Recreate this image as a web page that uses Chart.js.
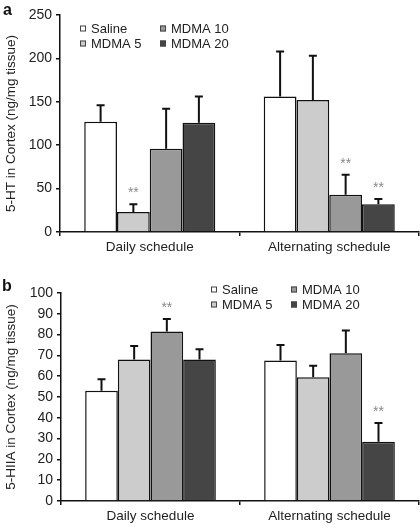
<!DOCTYPE html>
<html>
<head>
<meta charset="utf-8">
<script src="https://cdn.jsdelivr.net/npm/chart.js@4"></script>
<style>
  body { margin: 0; background: #fff; }
  .panel { position: relative; width: 420px; }
  .tag { position: absolute; font: bold 16px "Liberation Sans", Arial, sans-serif; color: #111; }
</style>
</head>
<body>
<div class="panel">
  <canvas id="chart1" width="420" height="260"></canvas>
  <div class="tag" style="left:3px; top:1px;">a</div>
</div>
<div class="panel">
  <canvas id="chart2" width="420" height="267"></canvas>
  <div class="tag" style="left:2px; top:17px;">b</div>
</div>
<script>
const categories = ['Daily schedule', 'Alternating schedule'];
const groups = ['Saline', 'MDMA 5', 'MDMA 10', 'MDMA 20'];
const fills = ['#ffffff', '#cccccc', '#999999', '#454545'];

// panel a: 5-HT (ng/mg tissue), upper error = SEM
const htSaline = [127, 156];
const htMdma5 = [23, 152];
const htMdma10 = [96, 43];
const htMdma20 = [126, 32];
const htErrSaline = [19, 52];
const htErrMdma5 = [9, 51];
const htErrMdma10 = [46, 23];
const htErrMdma20 = [30, 6];
const htSig = [[false, false], [true, false], [false, true], [false, true]];

// panel b: 5-HIAA (ng/mg tissue)
const hiaaSaline = [53, 67.5];
const hiaaMdma5 = [68, 59.5];
const hiaaMdma10 = [81.5, 71];
const hiaaMdma20 = [68, 28.5];
const hiaaErrSaline = [5.5, 7.5];
const hiaaErrMdma5 = [6.5, 5.5];
const hiaaErrMdma10 = [6, 11];
const hiaaErrMdma20 = [5, 9];
const hiaaSig = [[false, false], [false, false], [true, false], [false, true]];

const FONT = '"Liberation Sans", Arial, sans-serif';

// error bars + ** marks
const errorBars = {
  id: 'errorBars',
  afterDatasetsDraw(chart, args, opts) {
    const ctx = chart.ctx;
    const y = chart.scales.y;
    chart.data.datasets.forEach((ds, i) => {
      const meta = chart.getDatasetMeta(i);
      meta.data.forEach((bar, j) => {
        const top = y.getPixelForValue(ds.data[j] + opts.errors[i][j]);
        ctx.save();
        ctx.strokeStyle = '#111';
        ctx.lineWidth = 2;
        ctx.beginPath();
        ctx.moveTo(bar.x, bar.y);
        ctx.lineTo(bar.x, top);
        ctx.moveTo(bar.x - 4, top);
        ctx.lineTo(bar.x + 4, top);
        ctx.stroke();
        if (opts.sig[i][j]) {
          ctx.fillStyle = '#8a8a8a';
          ctx.font = '14px ' + FONT;
          ctx.textAlign = 'center';
          ctx.textBaseline = 'middle';
          ctx.fillText('**', bar.x, top - 11);
        }
        ctx.restore();
      });
    });
  }
};

// two-column legend inside the plot
const boxLegend = {
  id: 'boxLegend',
  afterDraw(chart, args, opts) {
    const ctx = chart.ctx;
    ctx.save();
    ctx.font = '13px ' + FONT;
    ctx.textBaseline = 'middle';
    chart.data.datasets.forEach((ds, i) => {
      const col = Math.floor(i / 2), row = i % 2;
      const x = opts.x[col], yy = opts.y[row];
      ctx.fillStyle = ds.backgroundColor;
      ctx.fillRect(x, yy - 3, 6, 6);
      ctx.strokeStyle = '#444';
      ctx.lineWidth = 1;
      ctx.strokeRect(x + 0.5, yy - 2.5, 5, 5);
      ctx.fillStyle = '#222';
      ctx.fillText(ds.label, x + 11, yy + 0.5);
    });
    ctx.restore();
  }
};

function makeDatasets(values) {
  return groups.map((g, i) => ({
    label: g,
    data: values[i],
    backgroundColor: fills[i],
    borderColor: '#111',
    borderWidth: 1.5,
    categoryPercentage: 0.73,
    barPercentage: 1.0
  }));
}

function drawChart(canvasId, values, errors, sig, cfg) {
  const ctx = document.getElementById(canvasId).getContext('2d');
  new Chart(ctx, {
    type: 'bar',
    data: { labels: categories, datasets: makeDatasets(values) },
    options: {
      animation: false,
      responsive: false,
      devicePixelRatio: 1,
      layout: { padding: { left: 0, top: cfg.top, right: 1, bottom: 0 } },
      plugins: {
        legend: { display: false },
        tooltip: { enabled: false },
        errorBars: { errors: errors, sig: sig },
        boxLegend: { x: cfg.legendX, y: cfg.legendY }
      },
      scales: {
        x: {
          afterFit(s) { s.height = cfg.xHeight; },
          grid: { display: true, drawOnChartArea: false, offset: true, tickLength: 4, color: '#111', lineWidth: 1.5 },
          border: { display: true, color: '#111', width: 1.5 },
          ticks: { color: '#222', padding: 3, font: { family: FONT, size: 13.5 } }
        },
        y: {
          min: 0,
          max: cfg.max,
          afterFit(s) { s.width = cfg.yWidth; },
          grid: { display: true, drawOnChartArea: false, tickLength: 4, color: '#111', lineWidth: 1.5 },
          border: { display: true, color: '#111', width: 1.5 },
          ticks: { stepSize: cfg.step, color: '#222', padding: 4, font: { family: FONT, size: 14 } },
          title: { display: true, text: cfg.title, color: '#222', padding: { top: 3, bottom: 0 }, font: { family: FONT, size: 13.5 } }
        }
      }
    },
    plugins: [errorBars, boxLegend]
  });
}

drawChart('chart1',
  [htSaline, htMdma5, htMdma10, htMdma20],
  [htErrSaline, htErrMdma5, htErrMdma10, htErrMdma20],
  htSig,
  { top: 15, xHeight: 28, yWidth: 60, max: 250, step: 50,
    title: '5-HT in Cortex (ng/mg tissue)', legendX: [80, 160], legendY: [28.5, 43.5] });

drawChart('chart2',
  [hiaaSaline, hiaaMdma5, hiaaMdma10, hiaaMdma20],
  [hiaaErrSaline, hiaaErrMdma5, hiaaErrMdma10, hiaaErrMdma20],
  hiaaSig,
  { top: 33, xHeight: 26, yWidth: 61, max: 100, step: 10,
    title: '5-HIIA in Cortex (ng/mg tissue)', legendX: [211, 291], legendY: [29.5, 44.5] });
</script>
</body>
</html>
